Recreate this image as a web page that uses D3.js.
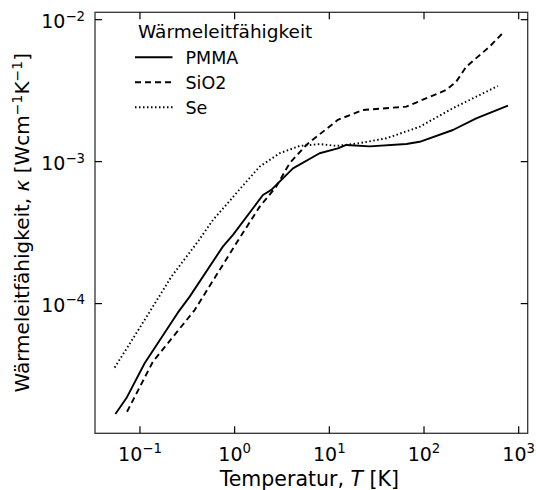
<!DOCTYPE html>
<html>
<head>
<meta charset="utf-8">
<script src="https://cdn.jsdelivr.net/npm/d3@7"></script>
<style>
  html, body { margin: 0; padding: 0; background: #fff; }
  svg { display: block; font-family: "DejaVu Sans", sans-serif; }
</style>
</head>
<body>
<svg id="chart" width="536" height="490"></svg>
<script>
// Thermal conductivity vs. temperature (T in K, kappa in W cm^-1 K^-1)
const pmmaT = [0.055, 0.072, 0.112, 0.25, 0.335, 0.75, 0.96, 1.99, 2.44, 4.13, 7.9, 12.3, 15.1, 26.7, 65, 90, 202, 356, 770];
const pmmaK = [1.67e-5, 2.16e-5, 3.8e-5, 8.6e-5, 1.12e-4, 2.52e-4, 3.05e-4, 5.82e-4, 6.32e-4, 8.97e-4, 1.146e-3, 1.24e-3, 1.31e-3, 1.28e-3, 1.33e-3, 1.38e-3, 1.67e-3, 2.02e-3, 2.48e-3];

const sio2T = [0.073, 0.137, 0.378, 1.04, 1.84, 2.75, 3.81, 5.71, 12.3, 22.6, 65, 172, 219, 280, 493, 710];
const sio2K = [1.73e-5, 3.9e-5, 9.0e-5, 2.66e-4, 4.82e-4, 6.67e-4, 9.75e-4, 1.31e-3, 1.97e-3, 2.31e-3, 2.44e-3, 3.2e-3, 3.66e-3, 4.67e-3, 6.46e-3, 8.3e-3];

const seT = [0.054, 0.112, 0.215, 0.41, 0.59, 1.33, 1.84, 2.99, 4.85, 7.9, 11.9, 20.9, 40, 90, 202, 603];
const seK = [3.54e-5, 7.67e-5, 1.55e-4, 2.74e-4, 3.88e-4, 7.23e-4, 9.23e-4, 1.146e-3, 1.29e-3, 1.33e-3, 1.29e-3, 1.35e-3, 1.46e-3, 1.76e-3, 2.38e-3, 3.41e-3];

const seriesNames = ["PMMA", "SiO2", "Se"];
const seriesDash = [null, "6,4", "1.5,2.5"];
const xTickExps = [-1, 0, 1, 2, 3];
const yTickExps = [-4, -3, -2];
const legendTitle = "Wärmeleitfähigkeit";

const series = [
  { name: seriesNames[0], T: pmmaT, K: pmmaK, dash: seriesDash[0] },
  { name: seriesNames[1], T: sio2T, K: sio2K, dash: seriesDash[1] },
  { name: seriesNames[2], T: seT, K: seK, dash: seriesDash[2] }
];

const margin = { left: 95, right: 8.3, top: 12.3, bottom: 56.7 };
const W = 536, H = 490;
const iw = W - margin.left - margin.right;
const ih = H - margin.top - margin.bottom;

const svg = d3.select("#chart");
const g = svg.append("g").attr("transform", `translate(${margin.left},${margin.top})`);

const x = d3.scaleLog().domain([0.0335, 1245]).range([0, iw]);
const y = d3.scaleLog().domain([1.22e-5, 1.127e-2]).range([ih, 0]);

// data lines
const line = d3.line().x(d => x(d[0])).y(d => y(d[1]));
series.forEach(s => {
  const pts = s.T.map((t, i) => [t, s.K[i]]);
  g.append("path")
    .attr("d", line(pts))
    .attr("fill", "none")
    .attr("stroke", "#000")
    .attr("stroke-width", 1.9)
    .attr("stroke-dasharray", s.dash)
    .attr("stroke-linejoin", "round");
});

// frame
g.append("rect").attr("width", iw).attr("height", ih)
  .attr("fill", "none").attr("stroke", "#333").attr("stroke-width", 1.3);

// inward ticks on all sides
const tickLen = 7;
const xTicks = xTickExps.map(e => Math.pow(10, e));
const yTicks = yTickExps.map(e => Math.pow(10, e));
xTicks.forEach(v => {
  const px = x(v);
  g.append("line").attr("x1", px).attr("x2", px).attr("y1", ih).attr("y2", ih - tickLen)
    .attr("stroke", "#000").attr("stroke-width", 1.2);
  g.append("line").attr("x1", px).attr("x2", px).attr("y1", 0).attr("y2", tickLen)
    .attr("stroke", "#000").attr("stroke-width", 1.2);
});
yTicks.forEach(v => {
  const py = y(v);
  g.append("line").attr("x1", 0).attr("x2", tickLen).attr("y1", py).attr("y2", py)
    .attr("stroke", "#000").attr("stroke-width", 1.2);
  g.append("line").attr("x1", iw).attr("x2", iw - tickLen).attr("y1", py).attr("y2", py)
    .attr("stroke", "#000").attr("stroke-width", 1.2);
});

// power-of-ten tick labels
function powLabel(sel, exp) {
  sel.append("tspan").text("10");
  sel.append("tspan").attr("dy", "-0.55em").attr("font-size", "0.7em")
    .text(exp < 0 ? "\u2212" + Math.abs(exp) : String(exp));
}
xTickExps.forEach((e, i) => {
  const t = g.append("text").attr("x", x(xTicks[i])).attr("y", ih + 27.4)
    .attr("text-anchor", "middle").attr("font-size", 19).attr("fill", "#000");
  powLabel(t, e);
});
yTickExps.forEach((e, i) => {
  const t = g.append("text").attr("x", -10).attr("y", y(yTicks[i]) + 8.2)
    .attr("text-anchor", "end").attr("font-size", 19).attr("fill", "#000");
  powLabel(t, e);
});

// axis titles
const xl = svg.append("text").attr("x", margin.left + iw / 2 - 2).attr("y", 486)
  .attr("text-anchor", "middle").attr("font-size", 20.5).attr("fill", "#000");
xl.append("tspan").text("Temperatur, ");
xl.append("tspan").attr("font-style", "italic").text("T");
xl.append("tspan").text(" [K]");

const yl = svg.append("text")
  .attr("transform", `translate(28.5,${margin.top + ih / 2}) rotate(-90)`)
  .attr("text-anchor", "middle").attr("font-size", 20).attr("fill", "#000");
yl.append("tspan").text("Wärmeleitfähigkeit, ");
yl.append("tspan").attr("font-style", "italic").text("κ");
yl.append("tspan").text(" [Wcm");
yl.append("tspan").attr("dy", "-0.5em").attr("font-size", "0.7em").text("\u22121");
yl.append("tspan").attr("dy", "0.35em").text("K");
yl.append("tspan").attr("dy", "-0.5em").attr("font-size", "0.7em").text("\u22121");
yl.append("tspan").attr("dy", "0.35em").text("]");

// legend
const lg = svg.append("g");
lg.append("text").attr("x", 138).attr("y", 37.5).attr("font-size", 18.5).attr("fill", "#000").text(legendTitle);
series.forEach((s, i) => {
  const ly = 57.3 + i * 25;
  lg.append("line").attr("x1", 135).attr("x2", 172.5).attr("y1", ly).attr("y2", ly)
    .attr("stroke", "#000").attr("stroke-width", 1.9).attr("stroke-dasharray", s.dash);
  lg.append("text").attr("x", 185.5).attr("y", ly + 6.3).attr("font-size", 17.5).attr("fill", "#000").text(s.name);
});
</script>
</body>
</html>
